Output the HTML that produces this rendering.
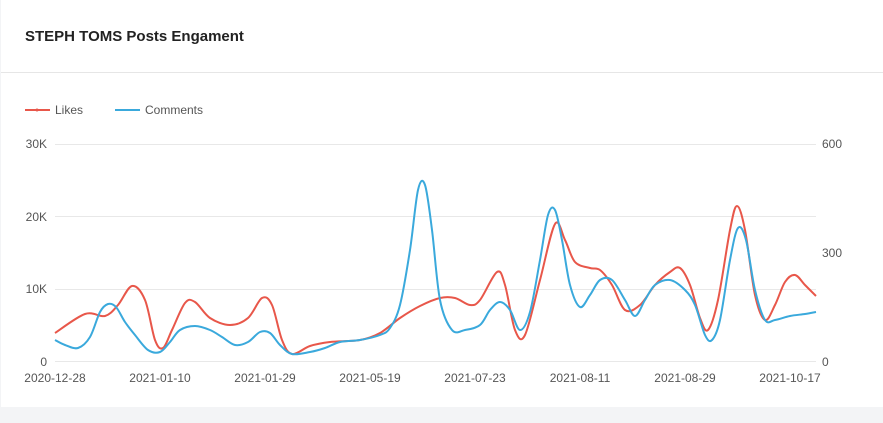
<!DOCTYPE html>
<html><head><meta charset="utf-8"><style>
html,body{margin:0;padding:0;width:883px;height:423px;overflow:hidden;background:#f3f4f6;font-family:"Liberation Sans",sans-serif}
.card{position:absolute;left:1px;top:0;width:882px;height:407px;background:#fff}
.title{position:absolute;left:24px;top:28px;font-size:15px;color:#222;font-weight:600}
.hr{position:absolute;left:0;top:72px;width:882px;height:1px;background:#e6e6e6}
svg{position:absolute;left:0;top:0}
text{font-family:"Liberation Sans",sans-serif;font-size:12px;fill:#555}
</style></head><body>
<div class="card"><div class="title">STEPH TOMS Posts Engament</div><div class="hr"></div></div>
<svg width="883" height="423">
<line x1="25" y1="110" x2="50" y2="110" stroke="#e8574a" stroke-width="2"/><circle cx="37" cy="110" r="1.5" fill="#e8574a"/>
<text x="55" y="114">Likes</text>
<line x1="115" y1="110" x2="140" y2="110" stroke="#3aa9dc" stroke-width="2"/>
<text x="145" y="114">Comments</text>
<g stroke="#e8e8e8" stroke-width="1">
<line x1="55" y1="144.5" x2="816" y2="144.5"/><line x1="55" y1="216.5" x2="816" y2="216.5"/><line x1="55" y1="289.5" x2="816" y2="289.5"/><line x1="55" y1="361.5" x2="816" y2="361.5"/>
</g>
<g text-anchor="end"><text x="47" y="148">30K</text><text x="47" y="221">20K</text><text x="47" y="293">10K</text><text x="47" y="366">0</text></g>
<g><text x="822" y="148">600</text><text x="822" y="257">300</text><text x="822" y="366">0</text></g>
<g text-anchor="middle"><text x="55" y="382">2020-12-28</text><text x="160" y="382">2021-01-10</text><text x="265" y="382">2021-01-29</text><text x="370" y="382">2021-05-19</text><text x="475" y="382">2021-07-23</text><text x="580" y="382">2021-08-11</text><text x="685" y="382">2021-08-29</text><text x="790" y="382">2021-10-17</text></g>
<path id="r" fill="none" stroke="#e8574a" stroke-width="2"/>
<path id="b" fill="none" stroke="#3aa9dc" stroke-width="2"/>
</svg>
<script>
function cr(p){let d="M"+p[0][0]+","+p[0][1];for(let i=0;i<p.length-1;i++){const a=p[i-1]||p[i],b=p[i],c=p[i+1],e=p[i+2]||c;d+=" C"+(b[0]+(c[0]-a[0])/6)+","+(b[1]+(c[1]-a[1])/6)+" "+(c[0]-(e[0]-b[0])/6)+","+(c[1]-(e[1]-b[1])/6)+" "+c[0]+","+c[1];}return d;}
const R=[[55,333],[85,314],[105,316],[118,305],[132,286],[145,300],[155,340],[163,348],[172,330],[185,303],[195,302],[210,318],[230,325],[248,318],[262,298],[272,305],[282,340],[292,354],[310,346],[330,342],[360,340],[380,333],[400,318],[420,306],[440,298],[455,298],[470,305],[480,300],[497,272],[505,285],[515,330],[525,335],[540,280],[555,224],[565,240],[575,262],[590,268],[600,270],[612,285],[625,310],[640,305],[655,285],[670,272],[680,268],[690,285],[700,318],[708,330],[718,300],[730,230],[737,206],[745,230],[755,295],[765,320],[775,305],[785,282],[795,275],[805,285],[816,296]];
const B=[[55,340],[65,345],[78,348],[90,337],[100,312],[108,304],[116,307],[125,322],[135,335],[148,350],[160,352],[170,342],[180,330],[195,326],[210,330],[222,337],[235,345],[248,342],[260,332],[270,333],[280,345],[292,354],[310,352],[325,348],[340,342],[360,340],[380,335],[390,328],[400,305],[410,250],[418,190],[425,185],[432,230],[440,300],[452,330],[465,330],[480,325],[490,310],[500,302],[510,310],[520,330],[530,312],[540,260],[548,215],[555,210],[562,240],[570,285],[580,307],[590,295],[600,280],[612,280],[625,300],[635,316],[645,300],[655,285],[670,280],[685,290],[695,305],[705,335],[712,340],[720,320],[730,260],[738,228],[746,240],[755,290],[765,320],[775,320],[790,316],[805,314],[816,312]];
document.getElementById("r").setAttribute("d",cr(R));
document.getElementById("b").setAttribute("d",cr(B));
</script>
</body></html>
